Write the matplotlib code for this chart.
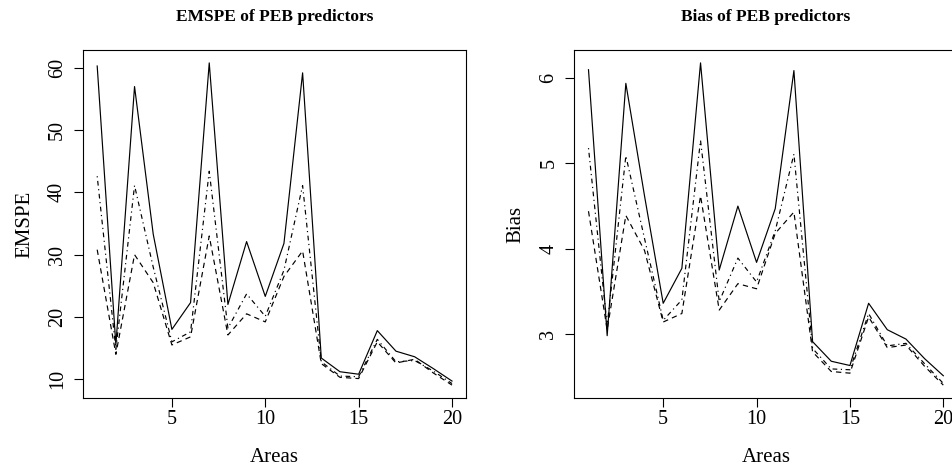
import matplotlib
matplotlib.use("Agg")
import matplotlib.pyplot as plt

plt.rcParams["font.family"] = ["Liberation Serif", "DejaVu Serif"]

areas = list(range(1, 21))

# EMSPE of the three PEB predictors
emspe_solid = [60.3, 15.5, 57.0, 33.3, 18.0, 22.3, 60.8, 22.0, 32.1, 23.3,
               31.8, 59.2, 13.4, 11.2, 10.8, 17.8, 14.5, 13.6, 11.7, 9.7]
emspe_dotdash = [42.6, 14.8, 41.1, 28.0, 16.0, 17.6, 43.4, 18.2, 23.7, 20.1,
                 27.5, 41.1, 12.8, 10.5, 10.4, 16.4, 12.8, 13.0, 11.3, 9.3]
emspe_dash = [30.8, 14.0, 30.0, 25.5, 15.5, 16.8, 33.0, 17.1, 20.5, 19.2,
              26.5, 30.6, 12.5, 10.3, 10.1, 16.0, 12.6, 13.2, 11.0, 9.05]

# Bias of the three PEB predictors
bias_solid = [6.10, 2.98, 5.94, 4.62, 3.36, 3.77, 6.18, 3.75, 4.50, 3.84,
              4.47, 6.09, 2.91, 2.68, 2.63, 3.36, 3.05, 2.94, 2.71, 2.51]
bias_dotdash = [5.18, 3.10, 5.09, 4.12, 3.16, 3.40, 5.27, 3.38, 3.89, 3.61,
                4.21, 5.11, 2.83, 2.59, 2.58, 3.24, 2.86, 2.89, 2.65, 2.42]
bias_dash = [4.44, 3.05, 4.39, 3.98, 3.14, 3.24, 4.62, 3.28, 3.59, 3.53,
             4.18, 4.43, 2.79, 2.56, 2.54, 3.20, 2.84, 2.87, 2.62, 2.40]

emspe_ticks = [10, 20, 30, 40, 50, 60]
bias_ticks = [3, 4, 5, 6]
x_ticks = [5, 10, 15, 20]


def r_range(vals):
    # R style axis range: data range padded by 4 percent
    lo, hi = min(vals), max(vals)
    pad = 0.04 * (hi - lo)
    return lo - pad, hi + pad


fig = plt.figure(figsize=(9.53, 4.70), dpi=100)
W, H = 953, 470

panels = [
    (83, "EMSPE of PEB predictors", "EMSPE",
     [emspe_solid, emspe_dotdash, emspe_dash], emspe_ticks),
    (574.3, "Bias of PEB predictors", "Bias",
     [bias_solid, bias_dotdash, bias_dash], bias_ticks),
]

styles = ["-", (0, (1, 3, 4, 3)), (0, (4.5, 3.5))]

for left_px, title, ylab, series, yt in panels:
    ax_w = 383.2
    ax_h = 348
    ax = fig.add_axes([left_px / W, (H - 398) / H, ax_w / W, ax_h / H])
    allv = []
    for s, ls in zip(series, styles):
        ax.plot(areas, s, color="black", lw=0.85, linestyle=ls)
        allv += s
    ax.set_xlim(r_range(areas))
    ax.set_ylim(r_range(allv))
    ax.set_xticks(x_ticks)
    ax.set_yticks(yt)
    ax.tick_params(axis="both", direction="out", length=6.5, width=0.8,
                   labelsize=14.5, color="black")
    ax.tick_params(axis="x", pad=2.5)
    ax.tick_params(axis="y", pad=5, labelrotation=90)
    for lab in ax.get_yticklabels():
        lab.set_va("center")
    for sp in ax.spines.values():
        sp.set_linewidth(0.8)
    ax.set_xlabel("Areas", fontsize=15, va="center")
    ax.xaxis.set_label_coords(0.5, -59 / ax_h)
    ax.set_ylabel(ylab, fontsize=15, va="center")
    ax.yaxis.set_label_coords(-58 / ax_w, 0.5)
    ax.set_title(title, fontsize=12.5, fontweight="bold", y=1 + 33 / ax_h,
                 va="center", pad=0)

fig.savefig("out.png", dpi=100)
